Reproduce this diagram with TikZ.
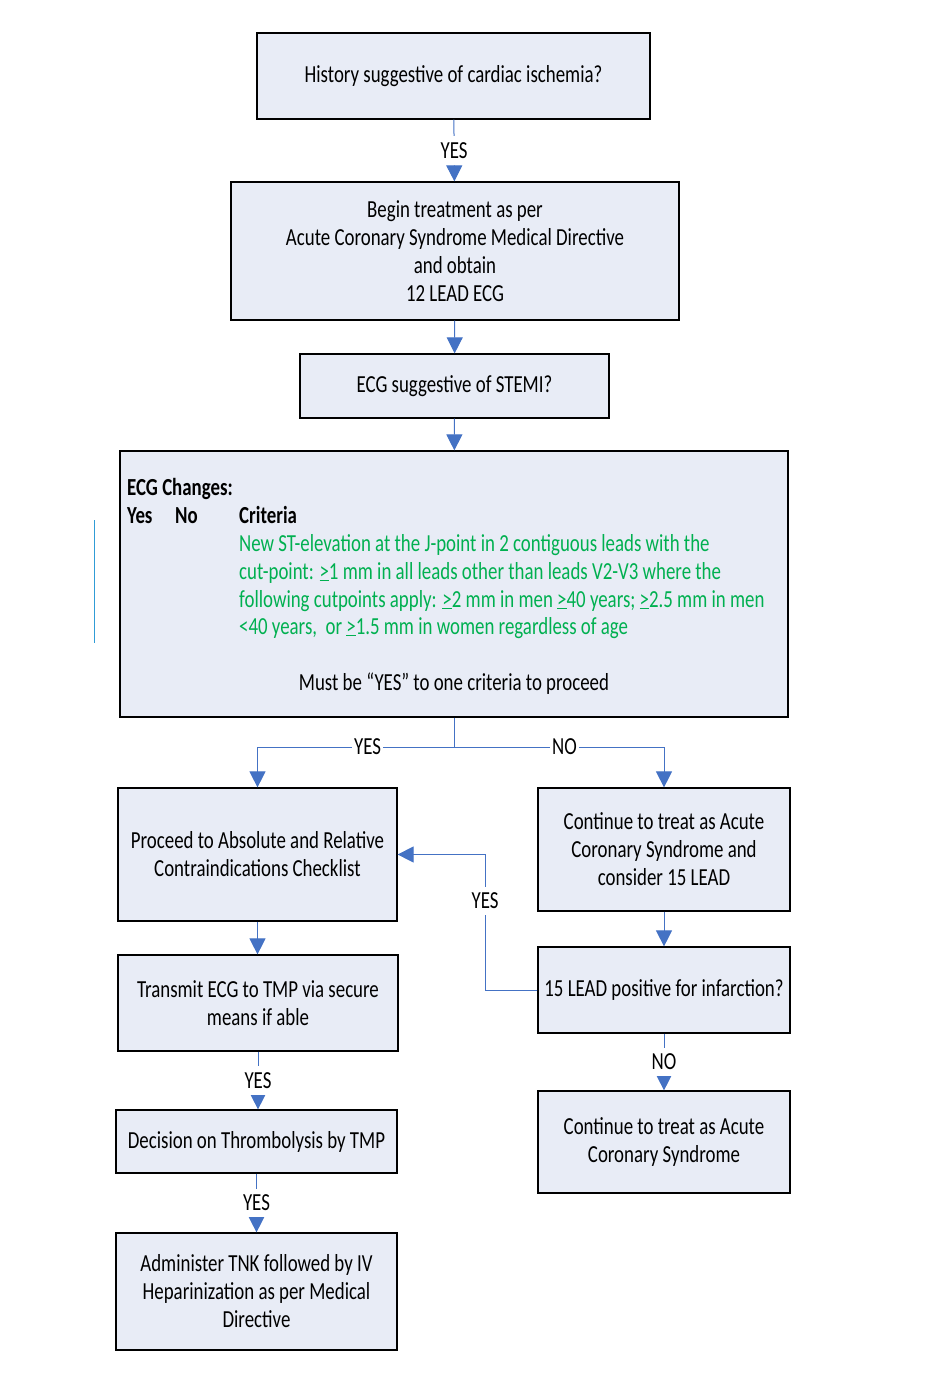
\documentclass[tikz,border=0pt]{standalone}
\usepackage{fontspec}
\setmainfont{Carlito}[FakeStretch=0.77]
\usetikzlibrary{arrows.meta}
\definecolor{boxfill}{RGB}{232,236,246}
\definecolor{linkblue}{RGB}{68,114,196}
\definecolor{critgreen}{RGB}{0,176,80}
\newcommand{\atleast}{\underline{>}}
\tikzset{
  x=1pt, y=-1pt,
  box/.style={draw=black, line width=1.2pt, fill=boxfill, align=center,
    inner sep=0pt, font=\fontsize{24.5}{28}\selectfont},
  conn/.style={draw=linkblue, line width=1pt,
    -{Triangle[width=16pt,length=16pt,fill=linkblue]}},
  lbl/.style={fill=white, inner xsep=2pt, inner ysep=6pt,
    font=\fontsize{24.5}{28}\selectfont},
  txt/.style={inner sep=0pt, anchor=base west, font=\fontsize{24.5}{28}\selectfont},
}
\begin{document}
\begin{tikzpicture}
\useasboundingbox (0,0) rectangle (928,1388);

% main column
\node[box, minimum width=393pt, minimum height=86pt] (b1) at (453.5,76)
  {History suggestive of cardiac ischemia?};
\node[box, minimum width=448pt, minimum height=138pt] (b2) at (455,251)
  {Begin treatment as per\\Acute Coronary Syndrome Medical Directive\\and obtain\\12 LEAD ECG};
\node[box, minimum width=309pt, minimum height=64pt] (b3) at (454.5,386)
  {ECG suggestive of STEMI?};
\node[box, minimum width=668pt, minimum height=266pt] (b4) at (454,584) {};

% criteria table inside the ECG box
\node[txt] (hdr) at (127,495) {\bfseries ECG Changes:};
\node[txt] (cy) at (127,523) {\bfseries Yes};
\node[txt] (cn) at (175,523) {\bfseries No};
\node[txt] (cc) at (239,523) {\bfseries Criteria};
\node[txt, text=critgreen] (g1) at (239,551) {New ST-elevation at the J-point in 2 contiguous leads with the};
\node[txt, text=critgreen] (g2) at (239,579) {cut-point: \atleast1 mm in all leads other than leads V2-V3 where the};
\node[txt, text=critgreen] (g3) at (239,607) {following cutpoints apply: \atleast2 mm in men \atleast40 years; \atleast2.5 mm in men};
\node[txt, text=critgreen] (g4) at (239,634) {<40 years,\ \ or \atleast1.5 mm in women regardless of age};
\node[txt, anchor=base] (must) at (454,690) {Must be “YES” to one criteria to proceed};

% left branch
\node[box, minimum width=279pt, minimum height=133pt] (b5) at (257.5,854.5)
  {Proceed to Absolute and Relative\\Contraindications Checklist};
\node[box, minimum width=280pt, minimum height=96pt] (b7) at (258,1003)
  {Transmit ECG to TMP via secure\\means if able};
\node[box, minimum width=281pt, minimum height=63pt] (b9) at (256.5,1141.5)
  {Decision on Thrombolysis by TMP};
\node[box, minimum width=281pt, minimum height=117pt] (b10) at (256.5,1291.5)
  {Administer TNK followed by IV\\Heparinization as per Medical\\Directive};

% right branch
\node[box, minimum width=252pt, minimum height=123pt] (b6) at (664,849.5)
  {Continue to treat as Acute\\Coronary Syndrome and\\consider 15 LEAD};
\node[box, minimum width=252pt, minimum height=86pt] (b8) at (664,990)
  {15 LEAD positive for infarction?};
\node[box, minimum width=252pt, minimum height=102pt] (b11) at (664,1142)
  {Continue to treat as Acute\\Coronary Syndrome};

% connectors
\coordinate (split) at (454,747);
\coordinate (fb) at (485,854.5);
\coordinate (stray1) at (94.5,520);
\coordinate (stray2) at (94.5,643);

\draw[conn] (b1) -- node[lbl] {YES} (b2);
\draw[conn] (b2) -- (b3);
\draw[conn] (b3) -- (b4);
\draw[draw=linkblue, line width=1pt] (b4.south) -- (split);
\draw[conn] (split) -| node[lbl, pos=0.22] {YES} (b5.north);
\draw[conn] (split) -| node[lbl, pos=0.263] {NO} (b6.north);
\draw[conn] (b5.south) -- (b7.north -| b5.south);
\draw[conn] (b7.south) -- node[lbl] {YES} (b9.north -| b7.south);
\draw[conn] (b9) -- node[lbl] {YES} (b10);
\draw[conn] (b6) -- (b8);
\draw[conn] (b8) -- node[lbl] {NO} (b11);
\draw[conn] (b8.west) -| node[lbl, pos=0.83] {YES} (fb) -- (b5.east);

% thin blue rule at the left margin
\draw[draw=linkblue!70!cyan, line width=1.5pt] (stray1) -- (stray2);
\end{tikzpicture}
\end{document}
